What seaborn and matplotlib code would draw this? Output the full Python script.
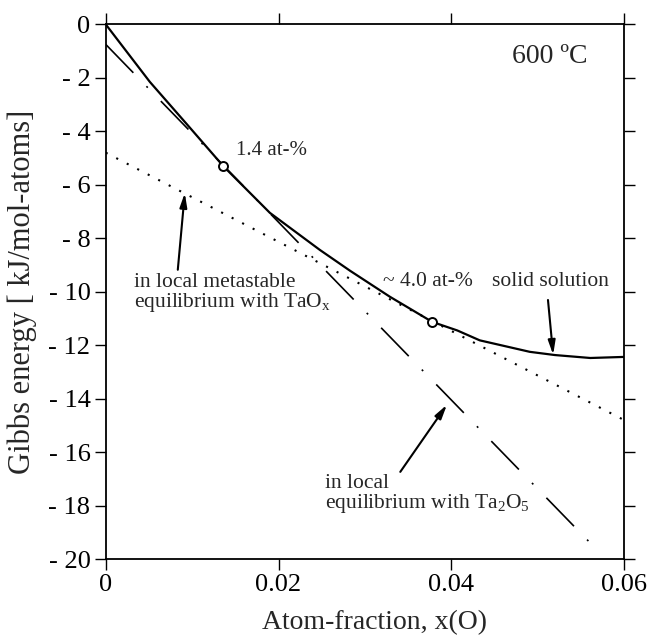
import numpy as np
import pandas as pd
import seaborn as sns
import matplotlib.pyplot as plt
from matplotlib.ticker import FixedLocator, FixedFormatter

# solid solution curve
x_curve = [0.0, 0.0051, 0.0097, 0.0136, 0.0190, 0.0248, 0.0283, 0.0329,
           0.0378, 0.0407, 0.0433, 0.0491, 0.0520, 0.0561, 0.0600]
g_curve = [0.0, -2.15, -3.85, -5.30, -7.05, -8.44, -9.22, -10.19,
           -11.13, -11.45, -11.82, -12.25, -12.37, -12.48, -12.44]

# tangent to Ta2O5 (dash-dot) and to TaOx (dotted)
x_ta2o5 = [0.0, 0.0567]
g_ta2o5 = [-0.75, -19.6]
x_taox = [0.0, 0.060]
g_taox = [-4.8, -14.8]

# tangent points
x_touch = [0.0136, 0.0378]
g_touch = [-5.30, -11.13]

x_ticks = [0, 0.02, 0.04, 0.06]
x_labels = ["0", "0.02", "0.04", "0.06"]
y_ticks = [0, -2, -4, -6, -8, -10, -12, -14, -16, -18, -20]
y_labels = ["0"] + ["- %d" % abs(v) for v in y_ticks[1:]]

sns.set_theme(style="ticks")
plt.rcParams["font.family"] = ["Liberation Serif", "DejaVu Serif"]
plt.rcParams["mathtext.fontset"] = "custom"
plt.rcParams["mathtext.rm"] = "Liberation Serif"
plt.rcParams["mathtext.it"] = "Liberation Serif:italic"
plt.rcParams["lines.scale_dashes"] = False

fig = plt.figure(figsize=(6.61, 6.38), dpi=100)
ax = fig.add_axes([0.160, 0.1238, 0.784, 0.838])

curve = pd.DataFrame({"x": x_curve, "g": g_curve})
sns.lineplot(data=curve, x="x", y="g", ax=ax, color="black", lw=1.6, sort=False)

sns.lineplot(x=x_ta2o5, y=g_ta2o5, ax=ax, color="black", lw=1.2,
             linestyle=(0, (28.5, 13.5, 1.4, 13.5)))
sns.lineplot(x=x_taox, y=g_taox, ax=ax, color="black", lw=1.5,
             linestyle=(0, (1.5, 7.0)))

sns.scatterplot(x=x_touch, y=g_touch, ax=ax, s=42, facecolor="white",
                edgecolor="black", linewidth=1.4, zorder=5)

ax.set_xlim(0, 0.06)
ax.set_ylim(-20, 0)
ax.xaxis.set_major_locator(FixedLocator(x_ticks))
ax.xaxis.set_major_formatter(FixedFormatter(x_labels))
ax.yaxis.set_major_locator(FixedLocator(y_ticks))
ax.yaxis.set_major_formatter(FixedFormatter(y_labels))
ax.tick_params(direction="out", length=8, width=1.0, pad=3, labelsize=19,
               colors="black", top=True, right=True, labelright=False)
for s in ax.spines.values():
    s.set_linewidth(1.3)
    s.set_color("black")

ax.set_xlabel("Atom-fraction, x(O)", fontsize=20)
ax.set_ylabel("Gibbs energy [ kJ/mol-atoms]", fontsize=22)
ax.xaxis.set_label_coords(0.519, -0.095)
ax.yaxis.set_label_coords(-0.133, 0.5)

ax.text(0.05145, -1.22, "600 ºC", fontsize=20, ha="center", va="center")
ax.text(0.01924, -4.70, "1.4 at-%", fontsize=15, ha="center", va="center")
ax.text(0.0373, -9.63, "~ 4.0 at-%", fontsize=15.5, ha="center", va="center")
ax.text(0.05145, -9.63, "solid solution", fontsize=15.5, ha="center", va="center")
ax.text(0.00324, -10.08, "in local metastable\nequilibrium with TaO$_\\mathrm{x}$",
        fontsize=15.5, ha="left", va="center", linespacing=0.95)
ax.text(0.02538, -17.58, "in local\nequilibrium with Ta$_\\mathrm{2}$O$_\\mathrm{5}$",
        fontsize=15.5, ha="left", va="center", linespacing=0.95)

arrow = dict(arrowstyle="-|>,head_length=0.7,head_width=0.18", color="black",
             lw=1.5, shrinkA=0, shrinkB=0)
ax.annotate("", xy=(0.00915, -6.31), xytext=(0.00834, -9.18), arrowprops=arrow)
ax.annotate("", xy=(0.0395, -14.23), xytext=(0.0341, -16.74), arrowprops=arrow)
ax.annotate("", xy=(0.0518, -12.36), xytext=(0.0512, -10.31), arrowprops=arrow)

fig.savefig("out.png", dpi=100)
